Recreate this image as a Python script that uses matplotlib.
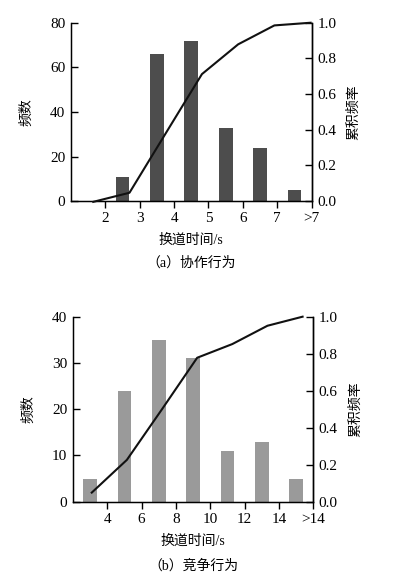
import numpy as np
import matplotlib
matplotlib.use('Agg')
import matplotlib.pyplot as plt
from matplotlib.ticker import FormatStrFormatter

plt.rcParams['font.family'] = ['Liberation Serif', 'Noto Sans CJK SC']
plt.rcParams['axes.unicode_minus'] = False

# (a) 协作行为
labels_a = ['2', '3', '4', '5', '6', '7', '>7']
counts_a = [0, 11, 66, 72, 33, 24, 5]
cum_a = [-0.004, 0.047, 0.38, 0.712, 0.879, 0.985, 1.0]

# (b) 竞争行为
labels_b = ['4', '6', '8', '10', '12', '14', '>14']
counts_b = [5, 24, 35, 31, 11, 13, 5]
cum_b = [0.049, 0.226, 0.50, 0.778, 0.852, 0.951, 1.0]

fig = plt.figure(figsize=(3.96, 5.83), dpi=100)


def panel(rect, labels, counts, cum, ymax, ystep, color, line_span, caption):
    ax = fig.add_axes(rect)
    n = len(counts)
    idx = np.arange(n)
    ax.bar(idx + 0.5, counts, width=0.4, color=color, zorder=2)
    ax.set_xlim(0, n)
    ax.set_ylim(0, ymax)
    ax.set_yticks(np.arange(0, ymax + 1, ystep))
    ax.set_xticks(idx + 1)
    ax.set_xticklabels(labels)
    ax.tick_params(axis='y', direction='in', length=5, width=1, labelsize=11, pad=4)
    ax.tick_params(axis='x', direction='out', length=5, width=1, labelsize=11, pad=3)
    ax.spines['top'].set_visible(False)
    for s in ax.spines.values():
        s.set_linewidth(1)
    ax.set_xlabel('换道时间/s', fontsize=10, labelpad=6)
    ax.set_ylabel('频数', fontsize=10, labelpad=12)

    ax2 = ax.twinx()
    ax2.set_ylim(0, 1.0)
    ax2.set_yticks(np.arange(0, 1.01, 0.2))
    ax2.yaxis.set_major_formatter(FormatStrFormatter('%.1f'))
    ax2.tick_params(axis='y', direction='in', length=5, width=1, labelsize=11, pad=4)
    ax2.spines['top'].set_visible(False)
    ax2.spines['right'].set_linewidth(1)
    ax2.set_ylabel('累积频率', fontsize=10, labelpad=8)
    line_x = np.linspace(line_span[0], line_span[1], n)
    ax2.plot(line_x, cum, color='#111111', lw=1.5, clip_on=False, zorder=3)

    ax.text(0.5, -0.345, caption, transform=ax.transAxes, ha='center', va='center',
            fontsize=10, family=['Liberation Serif', 'Noto Sans CJK SC'])
    return ax


panel([0.179, 0.655, 0.608, 0.306], labels_a, counts_a, cum_a, 80, 20,
      '#4d4d4d', (0.65, 6.97), '（a）协作行为')
panel([0.184, 0.1395, 0.607, 0.3173], labels_b, counts_b, cum_b, 40, 10,
      '#9a9a9a', (0.55, 6.69), '（b）竞争行为')

fig.savefig('out.png', dpi=100)
